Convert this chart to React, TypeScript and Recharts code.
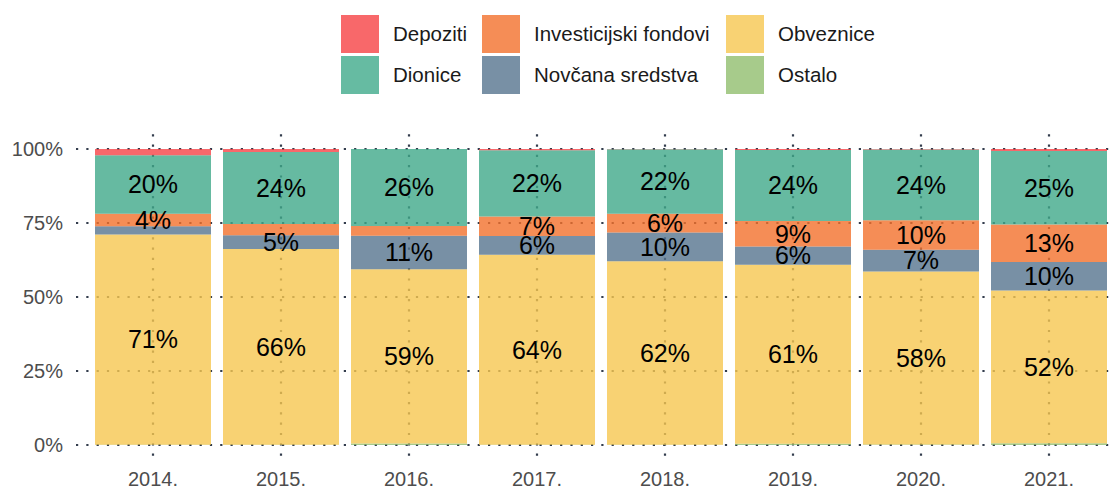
import React from "react"
import {
  BarChart, Bar, XAxis, YAxis, CartesianGrid, LabelList
} from "recharts"

const years = ["2014.", "2015.", "2016.", "2017.", "2018.", "2019.", "2020.", "2021."]

const depoziti = [2.1, 1.0, 0.0, 0.4, 0.1, 0.3, 0.2, 0.7]
const dionice = [19.8, 24.3, 26.0, 22.4, 21.8, 24.0, 23.9, 24.8]
const investicijski = [4.2, 3.8, 3.3, 6.6, 6.3, 8.6, 9.9, 12.7]
const novcana = [2.8, 4.7, 11.3, 6.3, 9.7, 6.2, 7.4, 9.6]
const obveznice = [71.0, 66.1, 58.9, 64.2, 62.0, 60.5, 58.4, 51.6]
const ostalo = [0.1, 0.1, 0.5, 0.1, 0.1, 0.4, 0.2, 0.6]

const majorTicks = [0, 25, 50, 75, 100]
const minorTicks = [12.5, 37.5, 62.5, 87.5]

// stacking order: first series sits at the bottom
const series = [
  { key: "Ostalo", values: ostalo, fill: "#91BE6E", legend: "#A7CB8B" },
  { key: "Obveznice", values: obveznice, fill: "#F6C750", legend: "#F8D273" },
  { key: "Novčana sredstva", values: novcana, fill: "#56748E", legend: "#7890A5" },
  { key: "Investicijski fondovi", values: investicijski, fill: "#F3712C", legend: "#F58D56" },
  { key: "Dionice", values: dionice, fill: "#40A98A", legend: "#66BBA2" },
  { key: "Depoziti", values: depoziti, fill: "#F64246", legend: "#F8686A" },
]

// legend reads column by column, like the ggplot guide
const legendOrder = [
  "Depoziti", "Investicijski fondovi", "Obveznice",
  "Dionice", "Novčana sredstva", "Ostalo",
]

const data = years.map((year, i) => {
  const row: Record<string, string | number> = { year }
  series.forEach((s) => { row[s.key] = s.values[i] })
  return row
})

const font = '"Liberation Sans", Arial, sans-serif'
const dotColor = "#333d4d"

function LegendBox() {
  return (
    <div
      style={{
        position: "absolute", left: 341, top: 15,
        display: "grid", gridTemplateColumns: "141px 244px auto",
        gridAutoRows: "38px", rowGap: 3,
        fontFamily: font, fontSize: 20.5, color: "#1a1a1a",
      }}
    >
      {legendOrder.map((name) => {
        const s = series.find((x) => x.key === name)!
        return (
          <div key={name} style={{ display: "flex", alignItems: "center" }}>
            <div style={{ width: 38, height: 38, background: s.legend, marginRight: 14, flexShrink: 0 }} />
            <span style={{ whiteSpace: "nowrap" }}>{name}</span>
          </div>
        )
      })}
    </div>
  )
}

export default function App() {
  return (
    <div
      style={{
        position: "absolute", left: 0, top: 0, width: 1115, height: 489,
        overflow: "hidden", background: "#fff", fontFamily: font,
      }}
    >
      <LegendBox />
      <BarChart
        width={1140}
        height={489}
        data={data}
        margin={{ top: 134.2, right: 14, bottom: 0, left: 0 }}
        barCategoryGap={6}
      >
        <CartesianGrid
          yAxisId="minor"
          vertical={false}
          syncWithTicks
          stroke="#e8e8e8"
          strokeWidth={1}
        />
        <CartesianGrid
          syncWithTicks
          stroke={dotColor}
          strokeWidth={2.2}
          strokeDasharray="2.2 8.1"
        />
        <XAxis
          dataKey="year"
          padding={{ left: 13, right: 13 }}
          axisLine={false}
          tickLine={false}
          tickSize={0}
          tickMargin={12}
          height={29.2}
          tick={{ fill: "#4d4d4d", fontSize: 20, fontFamily: font }}
        />
        <YAxis
          domain={[-5, 105]}
          ticks={majorTicks}
          tickFormatter={(v) => `${v}%`}
          axisLine={false}
          tickLine={false}
          tickSize={0}
          tickMargin={13}
          width={76}
          tick={{ fill: "#4d4d4d", fontSize: 20, fontFamily: font }}
        />
        <YAxis yAxisId="minor" hide domain={[-5, 105]} ticks={minorTicks} />
        {series.map((s) => (
          <Bar
            key={s.key}
            dataKey={s.key}
            stackId="a"
            fill={s.fill}
            fillOpacity={0.8}
            isAnimationActive={false}
          >
            <LabelList
              dataKey={s.key}
              position="center"
              fill="#000"
              fontSize={25}
              fontFamily={font}
              formatter={(v: any) => (Number(v) >= 4 ? `${Math.round(Number(v))}%` : "")}
            />
          </Bar>
        ))}
      </BarChart>
    </div>
  )
}
